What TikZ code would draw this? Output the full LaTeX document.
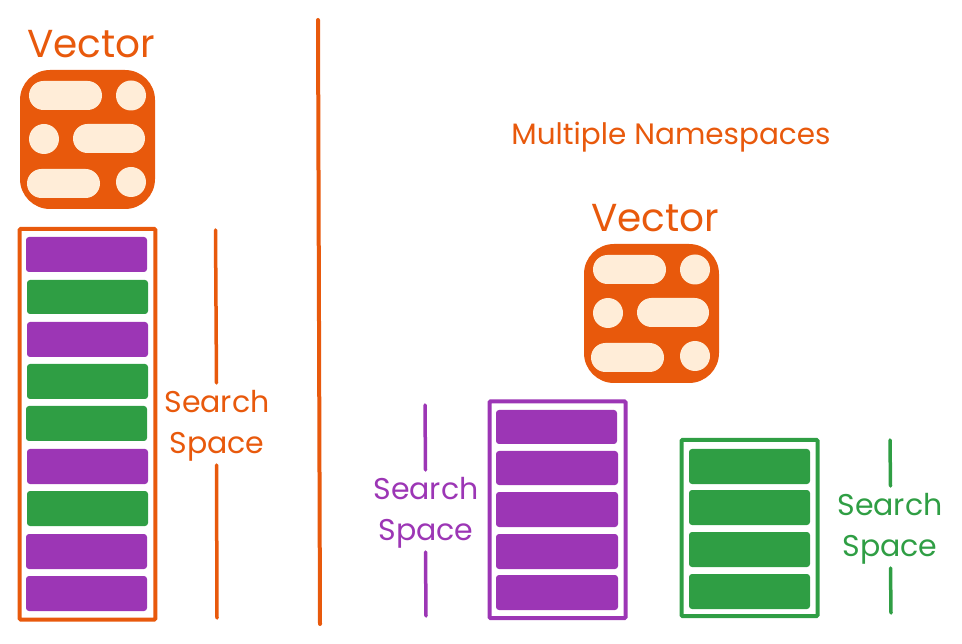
\documentclass[tikz,border=0pt]{standalone}
\usepackage{fontspec}
\setmainfont{Poppins}
\definecolor{orng}{HTML}{E8590C}
\definecolor{purp}{HTML}{9C36B5}
\definecolor{grn}{HTML}{2F9E44}
\definecolor{cream}{HTML}{FFEDD8}
\tikzset{
  x=1pt,y=-1pt,
  boxat/.style n args={4}{minimum width=#3-#1,minimum height=#4-#2,at={({(#1+#3)/2},{(#2+#4)/2})}},
  rowp/.style={rectangle,fill=purp,rounded corners=3pt,inner sep=0pt,outer sep=0pt},
  rowg/.style={rectangle,fill=grn,rounded corners=3pt,inner sep=0pt,outer sep=0pt},
  framebox/.style={rectangle,draw=#1,line width=4pt,rounded corners=1pt,inner sep=0pt,outer sep=0pt},
  titletext/.style={text=orng,font=\fontsize{#1}{#1}\selectfont,inner sep=0pt,align=center},
  spacelabel/.style={text=#1,font=\fontsize{30}{41}\selectfont,inner sep=0pt,align=center},
  rule/.style={draw=#1,line width=3.5pt,line cap=round},
  iconbody/.style={rectangle,fill=orng,rounded corners=30pt,inner sep=0pt,outer sep=0pt},
  iconpill/.style={rectangle,fill=cream,rounded corners=14.5pt,inner sep=0pt,outer sep=0pt},
  icondot/.style={circle,fill=cream,minimum size=30pt,inner sep=0pt,outer sep=0pt},
  pics/vectoricon/.style={code={
    \node[iconbody,boxat={20}{70}{155}{209}] (-body) {};
    \node[iconpill,boxat={29}{81}{102}{110}] (-p1) {};
    \node[icondot,at={(131,95.5)}] (-d1) {};
    \node[icondot,at={(44,139)}] (-d2) {};
    \node[iconpill,boxat={73}{124}{145}{153}] (-p2) {};
    \node[iconpill,boxat={27}{169}{100}{198}] (-p3) {};
    \node[icondot,at={(131,182)}] (-d3) {};
  }},
}
\begin{document}
\begin{tikzpicture}
\useasboundingbox (0,0) rectangle (962,644);
% left panel
\node[titletext=39] (vecL) at (91,44) {Vector};
\pic (iconL) at (0,0) {vectoricon};
\node[framebox=orng,boxat={19.7}{229}{155.3}{619.5}] (frameL) {};
\node[rowp,boxat={26}{237}{147}{272}] (l1) {};
\node[rowg,boxat={27}{280}{148}{314}] (l2) {};
\node[rowp,boxat={27}{322}{148}{357}] (l3) {};
\node[rowg,boxat={27}{364}{148}{399}] (l4) {};
\node[rowg,boxat={26}{406}{147}{441}] (l5) {};
\node[rowp,boxat={27}{449}{148}{484}] (l6) {};
\node[rowg,boxat={27}{491}{148}{526}] (l7) {};
\node[rowp,boxat={26}{534}{147}{569}] (l8) {};
\node[rowp,boxat={26}{576}{147}{611}] (l9) {};
\coordinate (ruleLa) at (215.5,230);
\coordinate (ruleLb) at (216.5,383);
\coordinate (ruleLc) at (216.5,465);
\coordinate (ruleLd) at (217,618);
\draw[rule=orng] (ruleLa) -- (ruleLb);
\draw[rule=orng] (ruleLc) -- (ruleLd);
\node[spacelabel=orng] (ssL) at (217,426) {Search\\Space};
% divider
\coordinate (divA) at (318,20);
\coordinate (divB) at (320,624);
\draw[rule=orng,line width=4pt] (divA) -- (divB);
% right panel
\node[titletext=29.5] (title) at (671,137) {Multiple Namespaces};
\node[titletext=39] (vecR) at (655,218) {Vector};
\pic (iconR) at (564,174) {vectoricon};
\node[framebox=purp,boxat={489.5}{401.5}{625.5}{618}] (frameP) {};
\node[rowp,boxat={496}{410}{617}{444}] (p1) {};
\node[rowp,boxat={496}{451}{618}{485}] (p2) {};
\node[rowp,boxat={496}{492}{618}{527}] (p3) {};
\node[rowp,boxat={496}{534}{618}{569}] (p4) {};
\node[rowp,boxat={496}{575}{618}{610}] (p5) {};
\node[framebox=grn,boxat={681.5}{440}{817.5}{616}] (frameG) {};
\node[rowg,boxat={689}{449}{810}{484}] (g1) {};
\node[rowg,boxat={689}{490}{810}{525}] (g2) {};
\node[rowg,boxat={689}{532}{810}{567}] (g3) {};
\node[rowg,boxat={689}{574}{810}{609}] (g4) {};
\coordinate (rulePa) at (425,405);
\coordinate (rulePb) at (425.5,470);
\coordinate (rulePc) at (425.5,552);
\coordinate (rulePd) at (426,616);
\draw[rule=purp] (rulePa) -- (rulePb);
\draw[rule=purp] (rulePc) -- (rulePd);
\node[spacelabel=purp] (ssP) at (426,513) {Search\\Space};
\coordinate (ruleGa) at (890,440);
\coordinate (ruleGb) at (890.5,486);
\coordinate (ruleGc) at (890.5,568);
\coordinate (ruleGd) at (891,613);
\draw[rule=grn] (ruleGa) -- (ruleGb);
\draw[rule=grn] (ruleGc) -- (ruleGd);
\node[spacelabel=grn] (ssG) at (890,529) {Search\\Space};
\end{tikzpicture}
\end{document}
